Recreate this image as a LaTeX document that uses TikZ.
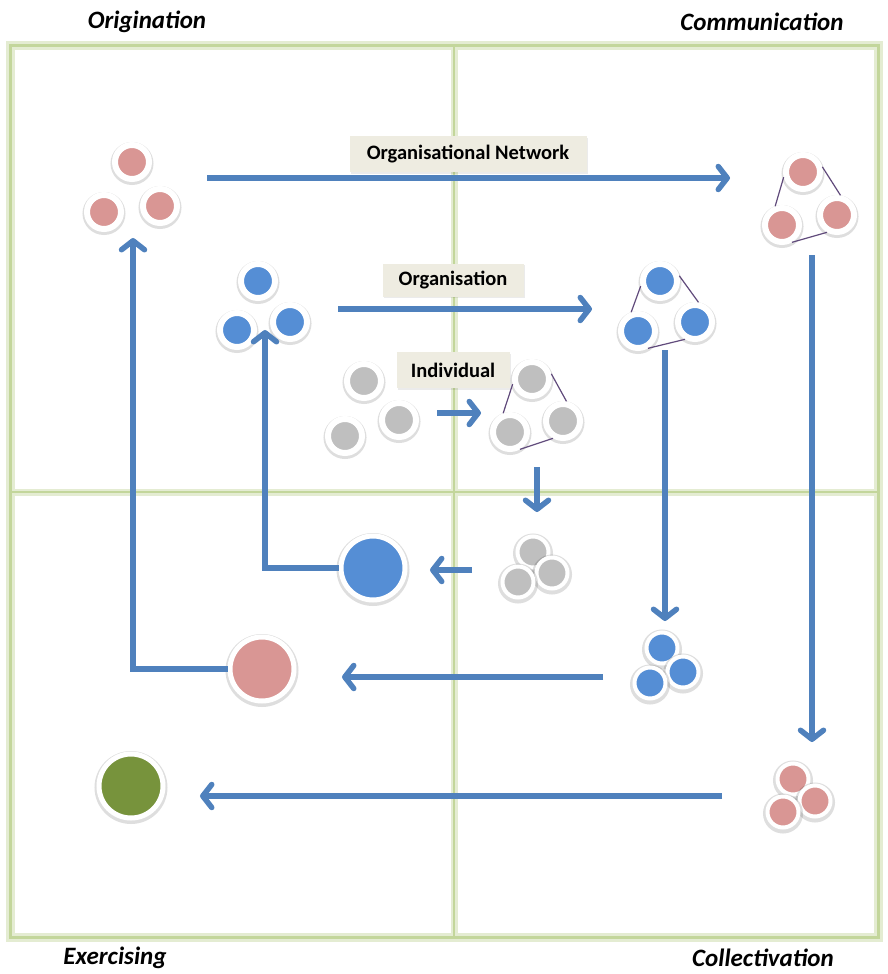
\documentclass[tikz,border=0pt]{standalone}
\usepackage{fontspec}
\setmainfont{Carlito}
\usetikzlibrary{arrows.meta}

\definecolor{pinkdot}{HTML}{D99694}
\definecolor{bluedot}{HTML}{558ED5}
\definecolor{graydot}{HTML}{BFBFBF}
\definecolor{greendot}{HTML}{77933C}
\definecolor{flowblue}{HTML}{4F81BD}
\definecolor{linkpurple}{HTML}{604A7B}
\definecolor{framegreen}{HTML}{C3D69B}
\definecolor{framehalo}{HTML}{E4ECD2}
\definecolor{tagfill}{HTML}{EEECE1}

\begin{document}
\begin{tikzpicture}[x=1pt, y=-1pt,
  ring/.style={circle, inner sep=0pt, draw=white,
    preaction={draw=black, draw opacity=0.13, fill=none, line width=9pt,
      transform canvas={yshift=-1.5pt}}},
  dot/.style={ring, minimum size=34pt, line width=6pt},
  tight/.style={ring, minimum size=31pt, line width=4pt},
  bigdot/.style={ring, minimum size=64pt, line width=5pt},
  link/.style={draw=linkpurple, line width=1.2pt},
  flow/.style={draw=flowblue, line width=5.5pt,
    -{Straight Barb[length=9pt, width=23pt, round]}},
  corner/.style={font=\bfseries\itshape\fontsize{25}{28}\selectfont},
  tag/.style={fill=tagfill, font=\bfseries\fontsize{20.5}{24}\selectfont,
    inner sep=0pt, preaction={fill=black, fill opacity=0.08,
      transform canvas={xshift=1.5pt, yshift=-1.5pt}}}
]
\useasboundingbox (0,0) rectangle (888,974);

% quadrant frame
\draw[framehalo, line width=9pt] (10,46) rectangle (878,937);
\draw[framehalo, line width=7pt] (454,46) -- (454,937) (10,492) -- (878,492);
\draw[framegreen, line width=3pt] (10,46) rectangle (878,937);
\draw[framegreen, line width=2.5pt] (454,46) -- (454,937) (10,492) -- (878,492);

% phase names
\node[corner] (orig) at (147,22) {Origination};
\node[corner] (comm) at (762,22) {Communication};
\node[corner] (exer) at (115,958) {Exercising};
\node[corner] (coll) at (763,958) {Collectivation};

% level tags
\node[tag, minimum width=237pt, minimum height=36pt] (tNet) at (468,154) {Organisational Network};
\node[tag, minimum width=141pt, minimum height=33pt] (tOrg) at (453,280) {Organisation};
\node[tag, minimum width=113pt, minimum height=36pt] (tInd) at (453,370) {Individual};

% origination clusters
\node[dot, fill=pinkdot] (pO1) at (132,162) {};
\node[dot, fill=pinkdot] (pO2) at (104,212) {};
\node[dot, fill=pinkdot] (pO3) at (160,206) {};
\node[dot, fill=bluedot] (bO1) at (258,281) {};
\node[dot, fill=bluedot] (bO2) at (237,330) {};
\node[dot, fill=bluedot] (bO3) at (290,322) {};
\node[dot, fill=graydot] (gO1) at (364,381) {};
\node[dot, fill=graydot] (gO2) at (345,436) {};
\node[dot, fill=graydot] (gO3) at (399,420) {};

% communicating triads
\node[dot, fill=pinkdot] (pC1) at (803,172) {};
\node[dot, fill=pinkdot] (pC2) at (782,225) {};
\node[dot, fill=pinkdot] (pC3) at (837,215) {};
\node[dot, fill=bluedot] (bC1) at (660,281) {};
\node[dot, fill=bluedot] (bC2) at (638,331) {};
\node[dot, fill=bluedot] (bC3) at (695,322) {};
\node[dot, fill=graydot] (gC1) at (532,379) {};
\node[dot, fill=graydot] (gC2) at (510,432) {};
\node[dot, fill=graydot] (gC3) at (563,421) {};

\foreach \t in {p,b,g}{
  \draw[link] (\t C1.195) -- (\t C2.110);
  \draw[link] (\t C1.15) -- (\t C3.80);
  \draw[link] (\t C2.-60) -- (\t C3.-120);
}

% collectivated clusters
\node[tight, fill=graydot] (gK1) at (533,552) {};
\node[tight, fill=graydot] (gK3) at (552,573) {};
\node[tight, fill=graydot] (gK2) at (518,582) {};
\node[tight, fill=bluedot] (bK1) at (662,648) {};
\node[tight, fill=bluedot] (bK3) at (683,672) {};
\node[tight, fill=bluedot] (bK2) at (650,683) {};
\node[tight, fill=pinkdot] (pK1) at (793,779) {};
\node[tight, fill=pinkdot] (pK3) at (815,801) {};
\node[tight, fill=pinkdot] (pK2) at (783,812) {};

% exercised wholes
\node[bigdot, fill=bluedot] (bigB) at (373,568) {};
\node[bigdot, fill=pinkdot] (bigP) at (262,669) {};
\node[bigdot, fill=greendot] (bigG) at (131,786) {};

% arrow ends
\coordinate (a1s) at (207,178);  \coordinate (a1e) at (730,178);
\coordinate (a2s) at (338,309);  \coordinate (a2e) at (592,309);
\coordinate (a3s) at (437,413);  \coordinate (a3e) at (481,413);
\coordinate (a4s) at (537,467);  \coordinate (a4e) at (537,512);
\coordinate (a5s) at (665,350);  \coordinate (a5e) at (665,621);
\coordinate (a6s) at (812,255);  \coordinate (a6e) at (812,742);
\coordinate (a7s) at (472,570);  \coordinate (a7e) at (430,570);
\coordinate (a8s) at (603,677);  \coordinate (a8e) at (342,677);
\coordinate (a9s) at (722,796);  \coordinate (a9e) at (200,796);
\coordinate (a10e) at (265,330);
\coordinate (a11e) at (133,238);

% cycle arrows
\draw[flow] (a1s) -- (a1e);
\draw[flow] (a2s) -- (a2e);
\draw[flow] (a3s) -- (a3e);
\draw[flow] (a4s) -- (a4e);
\draw[flow] (a5s) -- (a5e);
\draw[flow] (a6s) -- (a6e);
\draw[flow] (a7s) -- (a7e);
\draw[flow] (a8s) -- (a8e);
\draw[flow] (a9s) -- (a9e);
\draw[flow] (bigB.west) -| (a10e);
\draw[flow] (bigP.west) -| (a11e);
\end{tikzpicture}
\end{document}
